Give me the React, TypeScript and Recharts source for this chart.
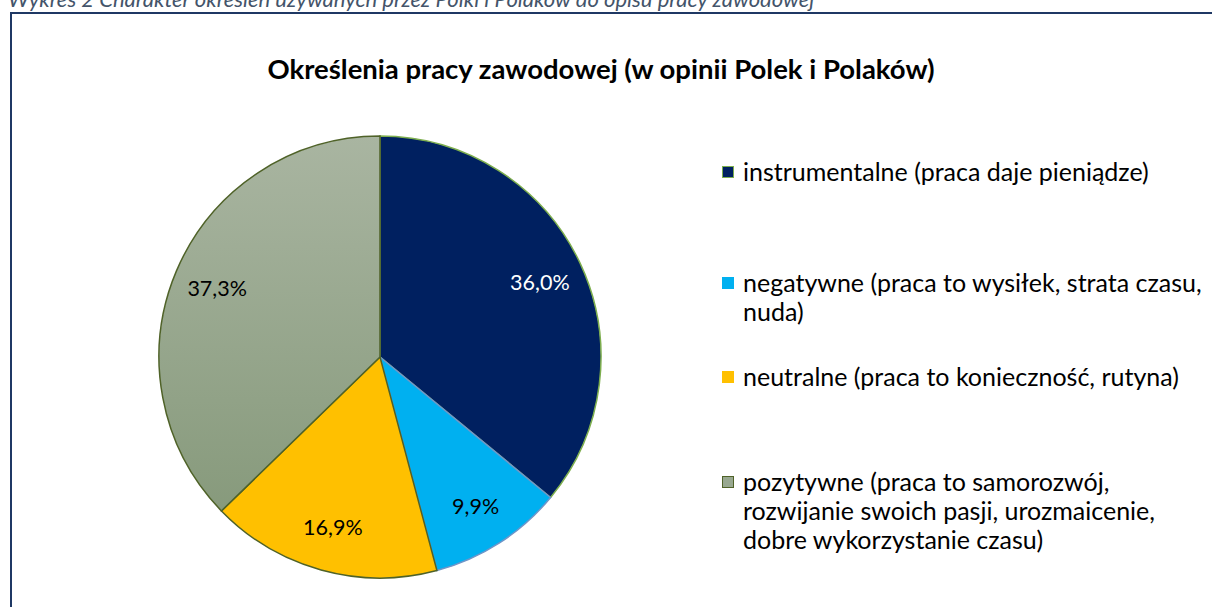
import { PieChart, Pie, Cell, Legend } from "recharts";

const categories = [
  "instrumentalne (praca daje pieniądze)",
  "negatywne (praca to wysiłek, strata czasu, nuda)",
  "neutralne (praca to konieczność, rutyna)",
  "pozytywne (praca to samorozwój, rozwijanie swoich pasji, urozmaicenie, dobre wykorzystanie czasu)",
];
const shares = [36.0, 9.9, 16.9, 37.3];
const fills = ["#002060", "#00B0F0", "#FFC000", "url(#greyGreen)"];
const legendFills = ["#002060", "#00B0F0", "#FFC000", "#98A890"];
const legendBorders = ["#7DAE4E", "#00B0F0", "#FFC000", "#4F6228"];
const strokes = ["#7DAE4E", "#6F95C8", "#4F6228", "#4F6228"];
const labelColors = ["#FFFFFF", "#000000", "#000000", "#000000"];

const chartData = categories.map((name, i) => ({ name, value: shares[i] }));

const FONT = "Lato, 'Open Sans', sans-serif";
const RADIAN = Math.PI / 180;

// top offsets of legend rows (Excel spaces them unevenly)
const legendTops = [157, 268, 362, 467];

function renderLabel(props: any) {
  const { cx, cy, midAngle, outerRadius, index, value } = props;
  const r = outerRadius * 0.8;
  const x = cx + r * Math.cos(-midAngle * RADIAN);
  const y = cy + r * Math.sin(-midAngle * RADIAN);
  return (
    <text x={x} y={y} fill={labelColors[index]} textAnchor="middle" dominantBaseline="central" fontSize={21.5} fontFamily={FONT}>
      {value.toFixed(1).replace(".", ",")}%
    </text>
  );
}

function LegendBox() {
  return (
    <div style={{ position: "relative", width: 490, height: 607 }}>
      {chartData.map((d, i) => (
        <div key={d.name} style={{ position: "absolute", top: legendTops[i], left: 0, width: 490, display: "flex", alignItems: "flex-start" }}>
          <span
            style={{
              width: 10,
              height: 10,
              marginTop: 9,
              marginRight: 9,
              flex: "none",
              background: legendFills[i],
              border: `1.5px solid ${legendBorders[i]}`,
            }}
          />
          <span style={{ fontSize: 25, lineHeight: "29px", color: "#000", fontFamily: FONT, maxWidth: 463, textAlign: "left" }}>{d.name}</span>
        </div>
      ))}
    </div>
  );
}

export default function App() {
  return (
    <div style={{ position: "fixed", left: 0, top: 0, width: 1212, height: 607, overflow: "hidden", background: "#fff", fontFamily: FONT }}>
      <div style={{ position: "absolute", left: 8, top: -15, fontSize: 22, fontStyle: "italic", color: "#44546A", whiteSpace: "nowrap" }}>
        Wykres 2 Charakter określeń używanych przez Polki i Polaków do opisu pracy zawodowej
      </div>
      <div style={{ position: "absolute", left: 10, top: 12, width: 1220, height: 620, border: "2px solid #1F3864" }} />
      <div style={{ position: "absolute", left: 0, top: 52, width: 1202, textAlign: "center", fontSize: 27.5, fontWeight: 700, color: "#000" }}>
        Określenia pracy zawodowej (w opinii Polek i Polaków)
      </div>
      <div style={{ position: "absolute", left: 0, top: 0 }}>
        <PieChart width={1212} height={607} margin={{ top: 0, right: 0, bottom: 0, left: 0 }}>
          <defs>
            <linearGradient id="greyGreen" x1="0" y1="0" x2="0" y2="1">
              <stop offset="0%" stopColor="#A9B5A1" />
              <stop offset="100%" stopColor="#879A7C" />
            </linearGradient>
          </defs>
          <Pie
            data={chartData}
            dataKey="value"
            nameKey="name"
            cx={380}
            cy={357}
            outerRadius={221}
            startAngle={90}
            endAngle={-270}
            label={renderLabel}
            labelLine={false}
            isAnimationActive={false}
          >
            {chartData.map((d, i) => (
              <Cell key={d.name} fill={fills[i]} stroke={strokes[i]} strokeWidth={1.5} />
            ))}
          </Pie>
          <Legend
            layout="vertical"
            content={() => <LegendBox />}
            wrapperStyle={{ position: "absolute", left: 722, top: 0, width: 490, height: 607 }}
          />
        </PieChart>
      </div>
    </div>
  );
}
